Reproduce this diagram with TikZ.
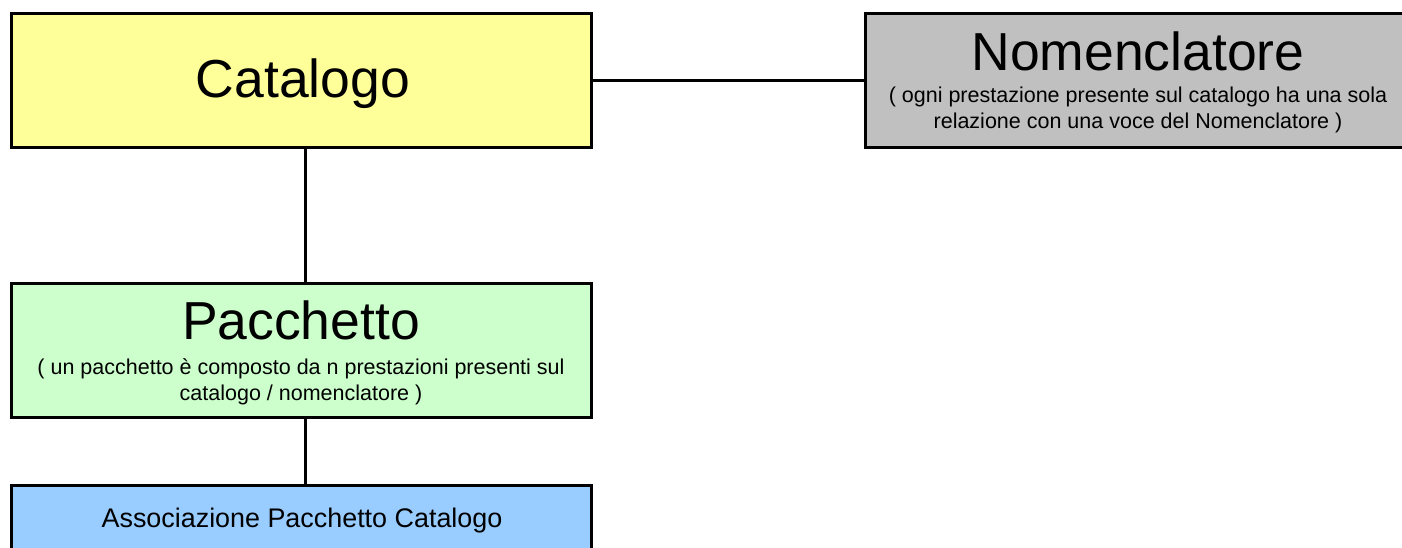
\documentclass[tikz,border=0pt]{standalone}
\usepackage{fontspec}
\setmainfont{Liberation Sans}
\definecolor{catY}{HTML}{FFFF99}
\definecolor{nomG}{HTML}{C0C0C0}
\definecolor{pacG}{HTML}{CCFFCC}
\definecolor{assB}{HTML}{99CCFF}
\tikzset{
  entbox/.style={draw=black, line width=3pt, rectangle, inner sep=0pt, minimum width=580pt, minimum height=134pt},
  big/.style={anchor=base, inner sep=0pt, font=\fontsize{53.5}{60}\selectfont},
  small/.style={anchor=base, inner sep=0pt, font=\fontsize{21.5}{26}\selectfont},
  mid/.style={anchor=base, inner sep=0pt, font=\fontsize{26.9}{30}\selectfont},
  conn/.style={draw=black, line width=3pt}
}
\begin{document}
\begin{tikzpicture}[x=1pt,y=-1pt]
\useasboundingbox (0,0) rectangle (1402,547);
\clip (0,0) rectangle (1402,547);
\fill[white] (0,0) rectangle (1402,547);
% boxes
\node[entbox, fill=catY] (cat) at (301,80) {};
\node[entbox, fill=nomG, minimum width=546pt] (nom) at (1138,80) {};
\node[entbox, fill=pacG] (pac) at (301,350) {};
\node[entbox, fill=assB] (ass) at (301,552) {};
% connectors
\draw[conn] (cat.east) -- (nom.west);
\draw[conn] ([xshift=4pt]cat.south) -- ([xshift=4pt]pac.north);
\draw[conn] ([xshift=4pt]pac.south) -- ([xshift=4pt]ass.north);
% texts
\node[big] (tcat) at (303,97) {Catalogo};
\node[big] (tnom) at (1138,70) {Nomenclatore};
\node[small] (tnom1) at (1138,102) {( ogni prestazione presente sul catalogo ha una sola};
\node[small] (tnom2) at (1138,128) {relazione con una voce del Nomenclatore )};
\node[big] (tpac) at (301,339) {Pacchetto};
\node[small] (tpac1) at (301,374) {( un pacchetto è composto da n prestazioni presenti sul};
\node[small] (tpac2) at (301,400) {catalogo / nomenclatore )};
\node[mid] (tass) at (302,527) {Associazione Pacchetto Catalogo};
\end{tikzpicture}
\end{document}
